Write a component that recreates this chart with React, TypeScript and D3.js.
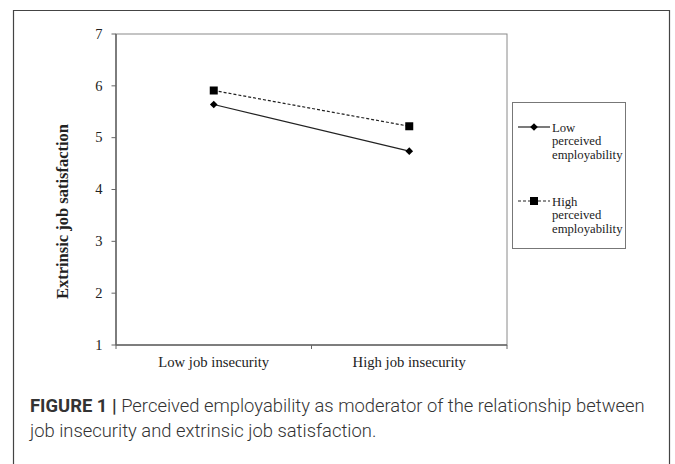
import React from "react";
import * as d3 from "d3";

const categories = ["Low job insecurity", "High job insecurity"];
const lowPE = [5.64, 4.74];
const highPE = [5.91, 5.22];
const yTicks = [1, 2, 3, 4, 5, 6, 7];
const seriesNames = [["Low", "perceived", "employability"], ["High", "perceived", "employability"]];
const yLabel = "Extrinsic job satisfaction";

const W = 675, H = 464;
const plot = { left: 116, right: 507, top: 34, bottom: 345 };

export default function App() {
  const x = d3.scaleBand().domain(categories).range([plot.left, plot.right]);
  const y = d3.scaleLinear().domain([1, 7]).range([plot.bottom, plot.top]);
  const cx = (c: string) => (x(c) as number) + x.bandwidth() / 2;
  const line = d3.line<[string, number]>().x(d => cx(d[0])).y(d => y(d[1]));
  const lowPts: [string, number][] = categories.map((c, i) => [c, lowPE[i]]);
  const highPts: [string, number][] = categories.map((c, i) => [c, highPE[i]]);
  const serif = "'Liberation Serif', 'Times New Roman', serif";
  const sans = "Roboto, 'Liberation Sans', sans-serif";
  const diamond = (px: number, py: number, r = 3.8) =>
    `M${px},${py - r}L${px + r},${py}L${px},${py + r}L${px - r},${py}Z`;

  return (
    <svg width={W} height={H} style={{ position: "absolute", left: 0, top: 0, background: "#fff" }}>
      {/* outer frame */}
      <path d={`M13.5,${H}V10.5H669.5V${H}`} fill="none" stroke="#444" strokeWidth={1.2} />
      {/* plot box */}
      <rect x={plot.left} y={plot.top} width={plot.right - plot.left} height={plot.bottom - plot.top}
        fill="none" stroke="#8a8a8a" strokeWidth={1} />
      <line x1={plot.left} x2={plot.left} y1={plot.top} y2={plot.bottom} stroke="#666" strokeWidth={1.5} />
      <line x1={plot.left} x2={plot.right} y1={plot.bottom} y2={plot.bottom} stroke="#666" strokeWidth={1.5} />
      {/* y ticks */}
      {yTicks.map(t => (
        <g key={t}>
          <line x1={plot.left - 4.5} x2={plot.left} y1={y(t)} y2={y(t)} stroke="#666" strokeWidth={1} />
          <text x={plot.left - 13.5} y={y(t) + 4.8} textAnchor="end" fontFamily={serif} fontSize={14.5} fill="#222">{t}</text>
        </g>
      ))}
      {/* x ticks (band boundaries) */}
      {[plot.left, plot.left + x.bandwidth(), plot.right].map((v, i) => (
        <line key={i} x1={v} x2={v} y1={plot.bottom} y2={plot.bottom + 4} stroke="#666" strokeWidth={1} />
      ))}
      {categories.map(c => (
        <text key={c} x={cx(c)} y={plot.bottom + 22} textAnchor="middle" fontFamily={serif} fontSize={14.7} fill="#222">{c}</text>
      ))}
      {/* y label */}
      <text transform={`translate(68,${(plot.top + plot.bottom) / 2 + 22}) rotate(-90)`} textAnchor="middle"
        fontFamily={serif} fontSize={16.5} fontWeight="bold" fill="#222">{yLabel}</text>
      {/* lines */}
      <path d={line(highPts) || ""} fill="none" stroke="#222" strokeWidth={1.2} strokeDasharray="3,2" />
      <path d={line(lowPts) || ""} fill="none" stroke="#222" strokeWidth={1.2} />
      {highPts.map((d, i) => (
        <rect key={i} x={cx(d[0]) - 4} y={y(d[1]) - 4} width={8} height={8} fill="#000" />
      ))}
      {lowPts.map((d, i) => (
        <path key={i} d={diamond(cx(d[0]), y(d[1]))} fill="#000" />
      ))}
      {/* legend */}
      <rect x={512.5} y={102.5} width={113} height={146} fill="#fff" stroke="#777" strokeWidth={1} />
      {seriesNames.map((lines, i) => {
        const ly = i === 0 ? 127 : 201;
        return (
          <g key={i}>
            <line x1={518} x2={550} y1={ly} y2={ly} stroke="#222" strokeWidth={1.2}
              strokeDasharray={i === 0 ? undefined : "3,2"} />
            {i === 0 ? <path d={diamond(534, ly)} fill="#000" /> : <rect x={530} y={ly - 4} width={8} height={8} fill="#000" />}
            {lines.map((t, j) => (
              <text key={j} x={552} y={ly + 4.5 + j * 13.8} fontFamily={serif} fontSize={12.7} fill="#222">{t}</text>
            ))}
          </g>
        );
      })}
      {/* caption */}
      <text x={30} y={412} fontFamily={sans} fontSize={18.4} fill="#333">
        <tspan fontWeight="bold">FIGURE 1 | </tspan>
        <tspan fontWeight={300}>Perceived employability as moderator of the relationship between</tspan>
      </text>
      <text x={30} y={437} fontFamily={sans} fontSize={18.4} fontWeight={300} fill="#333">
        job insecurity and extrinsic job satisfaction.
      </text>
    </svg>
  );
}
